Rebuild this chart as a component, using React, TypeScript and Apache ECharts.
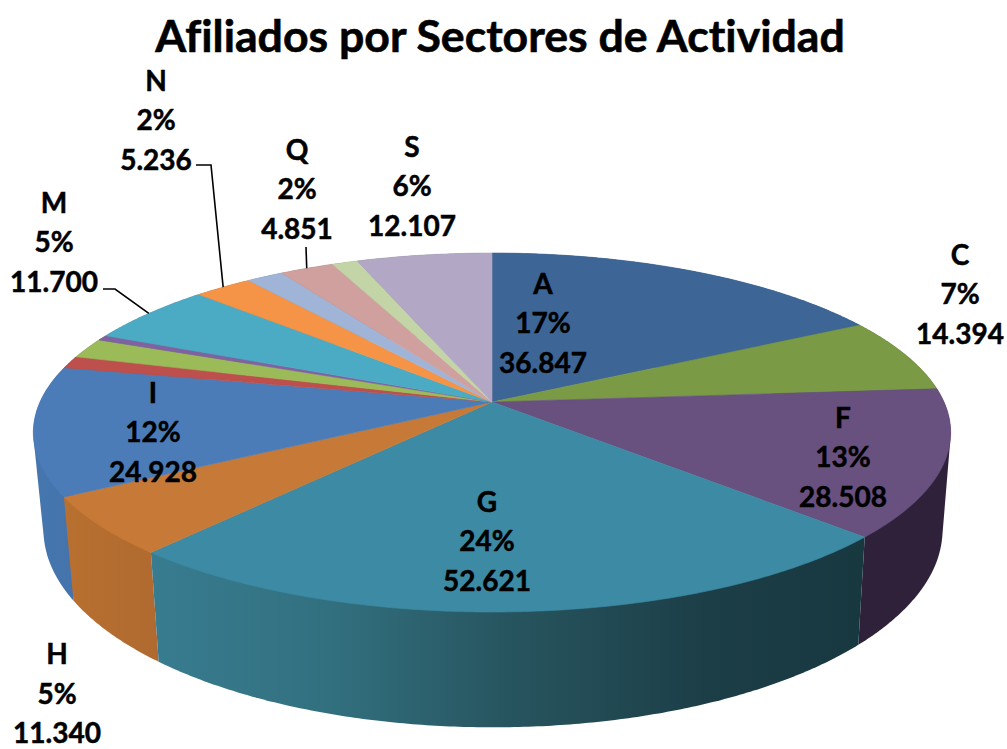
import React, { useEffect, useRef } from "react";
import * as echarts from "echarts";

const titleText = "Afiliados por Sectores de Actividad";
const sectors = ["A", "C", "F", "G", "H", "I", "J", "K", "L", "M", "N", "P", "Q", "R", "S"];
const afiliados = [36847, 14394, 28508, 52621, 11340, 24928, 2400, 3900, 1050, 11700, 5236, 3300, 4851, 2300, 12107];
const topColors = ["#3d6596", "#7b9a46", "#68507f", "#3c8aa3", "#c77a37", "#4b7cb8", "#bd4f4c", "#9bbb59", "#7f63a1", "#4babc5", "#f59447", "#9fb4d6", "#d0a09f", "#c3d4a6", "#b2a8c5"];
const sideStops: Record<string, [number, string][]> = {
  A: [[0, "#2c4a6e"], [1, "#2c4a6e"]],
  C: [[0, "#3d4d23"], [1, "#3d4d23"]],
  F: [[0, "#2e2139"], [1, "#2e2139"]],
  G: [[0, "#387c90"], [0.25, "#32707f"], [0.5, "#27555f"], [0.78, "#1c3e47"], [1, "#183840"]],
  H: [[0, "#b8702f"], [1, "#b06a30"]],
  I: [[0, "#4576ad"], [1, "#4474ab"]],
};
const labelled = ["A", "C", "F", "G", "H", "I", "M", "N", "Q", "S"];
const percents = ["17%", "7%", "13%", "24%", "5%", "12%", "5%", "2%", "2%", "6%"];
const valueTexts = ["36.847", "14.394", "28.508", "52.621", "11.340", "24.928", "11.700", "5.236", "4.851", "12.107"];

// layout only: text centres and leader-line elbows, in page pixels
const labelCentres: [number, number][] = [
  [543, 322], [960, 293], [843, 456], [487, 540], [57, 692.5], [153, 431], [54, 241], [156, 119], [297, 188], [412, 185],
];
const leaderElbows: Record<string, [number, number][]> = {
  M: [[103, 289], [115, 289]],
  N: [[196, 165], [211, 165]],
  Q: [[306, 247]],
};
const LINE_STEP = 39.5;

const TOP = { cx: 492, cy: 402, r: 452, s: 174.3, k: 0.17 };
const BOTTOM = { cx: 493, cy: 496, r: 443, s: 192, k: 0.17 };
const total = afiliados.reduce((a, b) => a + b, 0);

function project(d: typeof TOP, deg: number): [number, number] {
  const a = (deg * Math.PI) / 180;
  const t = -Math.cos(a);
  const w = 1 - d.k * t;
  return [d.cx + (d.r * Math.sin(a)) / w, d.cy + (d.s * t) / w];
}
function arc(d: typeof TOP, from: number, to: number): [number, number][] {
  const out: [number, number][] = [];
  const n = Math.max(2, Math.ceil(to - from) * 2);
  for (let i = 0; i <= n; i++) out.push(project(d, from + ((to - from) * i) / n));
  return out;
}
function angles(i: number): [number, number] {
  let sum = 0;
  for (let j = 0; j < i; j++) sum += afiliados[j];
  return [(sum / total) * 360, ((sum + afiliados[i]) / total) * 360];
}
function hull(points: [number, number][]): [number, number][] {
  const p = [...points].sort((a, b) => a[0] - b[0] || a[1] - b[1]);
  const cross = (o: number[], a: number[], b: number[]) =>
    (a[0] - o[0]) * (b[1] - o[1]) - (a[1] - o[1]) * (b[0] - o[0]);
  const lower: [number, number][] = [];
  for (const q of p) {
    while (lower.length >= 2 && cross(lower[lower.length - 2], lower[lower.length - 1], q) <= 0) lower.pop();
    lower.push(q);
  }
  const upper: [number, number][] = [];
  for (const q of p.reverse()) {
    while (upper.length >= 2 && cross(upper[upper.length - 2], upper[upper.length - 1], q) <= 0) upper.pop();
    upper.push(q);
  }
  return [...lower.slice(0, -1), ...upper.slice(0, -1)];
}
const seriesData = afiliados.map((v, i) => ({ name: sectors[i], value: v }));

export default function App() {
  const ref = useRef<HTMLDivElement>(null);
  useEffect(() => {
    document.body.style.margin = "0";
    const chart = echarts.init(ref.current!, null, { renderer: "svg" });
    chart.setOption({
      animation: false,
      backgroundColor: "#fff",
      title: {
        text: titleText,
        left: 495,
        top: 7,
        textAlign: "center",
        textStyle: { fontFamily: "Lato", fontWeight: 700, fontSize: 44.6, color: "#000", textBorderColor: "#000", textBorderWidth: 0.6 },
      },
      series: [
        {
          type: "custom",
          coordinateSystem: "none",
          z: 1,
          silent: true,
          data: seriesData,
          renderItem: (p: any) => {
            const i = p.dataIndex;
            const [a0, a1] = angles(i);
            const name = sectors[i];
            const mid = (a0 + a1) / 2;
            const pts = hull([...arc(TOP, a0, a1), ...arc(BOTTOM, a0, a1)]);
            const xs = pts.map((q) => q[0]);
            const minX = Math.min(...xs);
            const maxX = Math.max(...xs);
            const stops = sideStops[name] || [[0, "#666"], [1, "#666"]];
            return {
              type: "polygon",
              z2: Math.round(-Math.cos((mid * Math.PI) / 180) * 100) + 100,
              shape: { points: pts },
              style: {
                fill: new echarts.graphic.LinearGradient(
                  minX, 0, maxX, 0,
                  stops.map(([offset, color]) => ({ offset, color })),
                  true
                ),
              },
            };
          },
        },
        {
          type: "custom",
          coordinateSystem: "none",
          z: 2,
          silent: true,
          data: seriesData,
          renderItem: (p: any) => {
            const i = p.dataIndex;
            const [a0, a1] = angles(i);
            const pts = [[TOP.cx, TOP.cy], ...arc(TOP, a0, a1)];
            return {
              type: "polygon",
              shape: { points: pts },
              style: { fill: topColors[i], stroke: topColors[i], lineWidth: 0.6 },
            };
          },
        },
        {
          type: "custom",
          coordinateSystem: "none",
          z: 3,
          silent: true,
          data: labelled.map((n, i) => ({ name: n, value: i })),
          renderItem: (p: any) => {
            const i = p.dataIndex;
            const name = labelled[i];
            const [a0, a1] = angles(sectors.indexOf(name));
            const [x, y] = labelCentres[i];
            const children: any[] = [];
            const elbow = leaderElbows[name];
            if (elbow) {
              children.push({
                type: "polyline",
                shape: { points: [...elbow, project(TOP, (a0 + a1) / 2)] },
                style: { stroke: "#000", lineWidth: 1.6, fill: "none" },
              });
            }
            [name, percents[i], valueTexts[i]].forEach((line, k) => {
              children.push({
                type: "text",
                style: {
                  text: line,
                  x,
                  y: y + (k - 1) * LINE_STEP,
                  align: "center",
                  verticalAlign: "middle",
                  fontFamily: "Lato",
                  fontWeight: 700,
                  fontSize: 28,
                  fill: "#000",
                  stroke: "#000",
                  lineWidth: 0.5,
                },
              });
            });
            return { type: "group", children };
          },
        },
      ],
    });
    return () => chart.dispose();
  }, []);
  return <div ref={ref} style={{ width: 1007, height: 749, fontVariantLigatures: "none" }} />;
}
